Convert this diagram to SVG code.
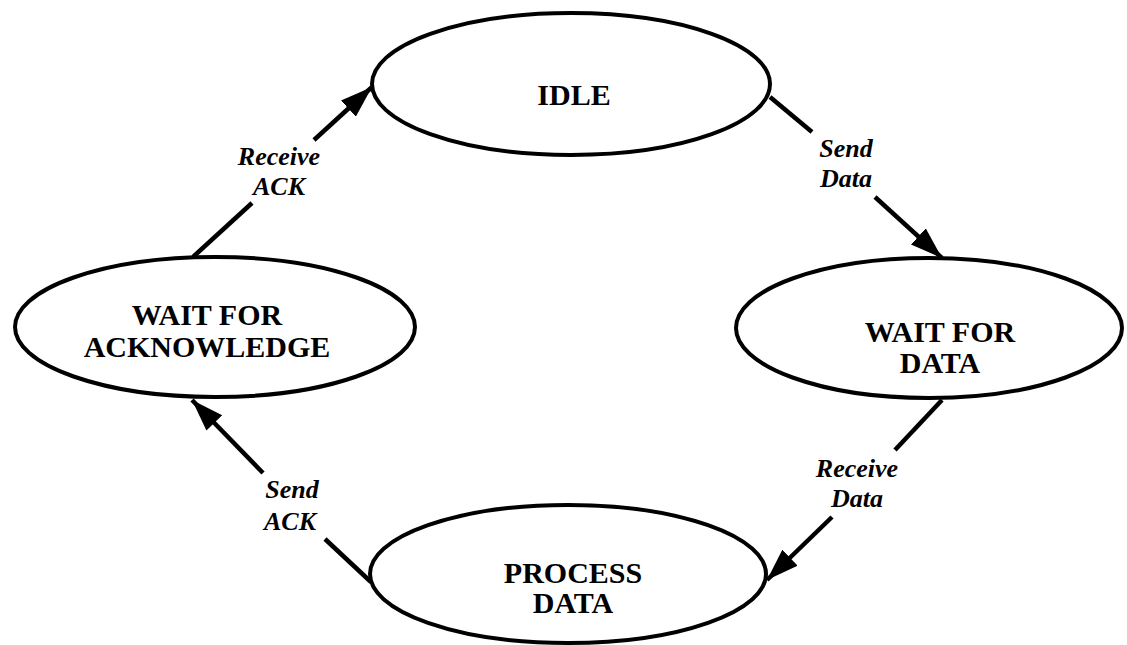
<svg xmlns="http://www.w3.org/2000/svg" width="1127" height="645" viewBox="0 0 1127 645">
  <style>
    .state { fill: #fff; stroke: #000; stroke-width: 4; }
    .name { font-family: "Liberation Serif", "Times New Roman", serif; font-weight: bold; font-size: 30px; text-anchor: middle; fill: #000; }
    .edge { stroke: #000; stroke-width: 4.5; fill: none; }
    .cond { font-family: "Liberation Serif", "Times New Roman", serif; font-weight: bold; font-style: italic; font-size: 26px; text-anchor: middle; fill: #000; }
  </style>
  <defs>
    <marker id="head" markerUnits="userSpaceOnUse" markerWidth="34" markerHeight="24" refX="32" refY="11" orient="auto">
      <path d="M0,0 L32,11 L0,22 Z" fill="#000"/>
    </marker>
  </defs>
  <rect width="1127" height="645" fill="#fff"/>

  <g id="connectors">
    <!-- Receive ACK: WAIT FOR ACKNOWLEDGE -> IDLE -->
    <line class="edge" x1="193" y1="257" x2="252" y2="203"/>
    <line class="edge" x1="314" y1="140" x2="372" y2="87" marker-end="url(#head)"/>
    <text class="cond" x="279" y="165">Receive</text>
    <text class="cond" x="279" y="195">ACK</text>
    <!-- Send Data: IDLE -> WAIT FOR DATA -->
    <line class="edge" x1="770" y1="97" x2="812" y2="132"/>
    <line class="edge" x1="875" y1="197" x2="942" y2="258" marker-end="url(#head)"/>
    <text class="cond" x="846" y="157">Send</text>
    <text class="cond" x="846" y="187">Data</text>
    <!-- Receive Data: WAIT FOR DATA -> PROCESS DATA -->
    <line class="edge" x1="942" y1="400" x2="895" y2="450"/>
    <line class="edge" x1="832" y1="517" x2="767" y2="580" marker-end="url(#head)"/>
    <text class="cond" x="857" y="477">Receive</text>
    <text class="cond" x="857" y="507">Data</text>
    <!-- Send ACK: PROCESS DATA -> WAIT FOR ACKNOWLEDGE -->
    <line class="edge" x1="371" y1="582" x2="325" y2="539"/>
    <line class="edge" x1="263" y1="473" x2="192" y2="400" marker-end="url(#head)"/>
    <text class="cond" x="292" y="498">Send</text>
    <text class="cond" x="290" y="530">ACK</text>
  </g>

  <g id="idle">
    <ellipse class="state" cx="571" cy="84" rx="199" ry="71"/>
    <text class="name" x="574" y="105">IDLE</text>
  </g>
  <g id="wait-for-data">
    <ellipse class="state" cx="929" cy="328" rx="193" ry="70"/>
    <text class="name" x="940" y="342">WAIT FOR</text>
    <text class="name" x="940" y="373">DATA</text>
  </g>
  <g id="process-data">
    <ellipse class="state" cx="568" cy="574" rx="198" ry="69"/>
    <text class="name" x="573" y="583">PROCESS</text>
    <text class="name" x="573" y="613">DATA</text>
  </g>
  <g id="wait-for-acknowledge">
    <ellipse class="state" cx="215" cy="327" rx="200" ry="70"/>
    <text class="name" x="207" y="325">WAIT FOR</text>
    <text class="name" x="207" y="357">ACKNOWLEDGE</text>
  </g>
</svg>
